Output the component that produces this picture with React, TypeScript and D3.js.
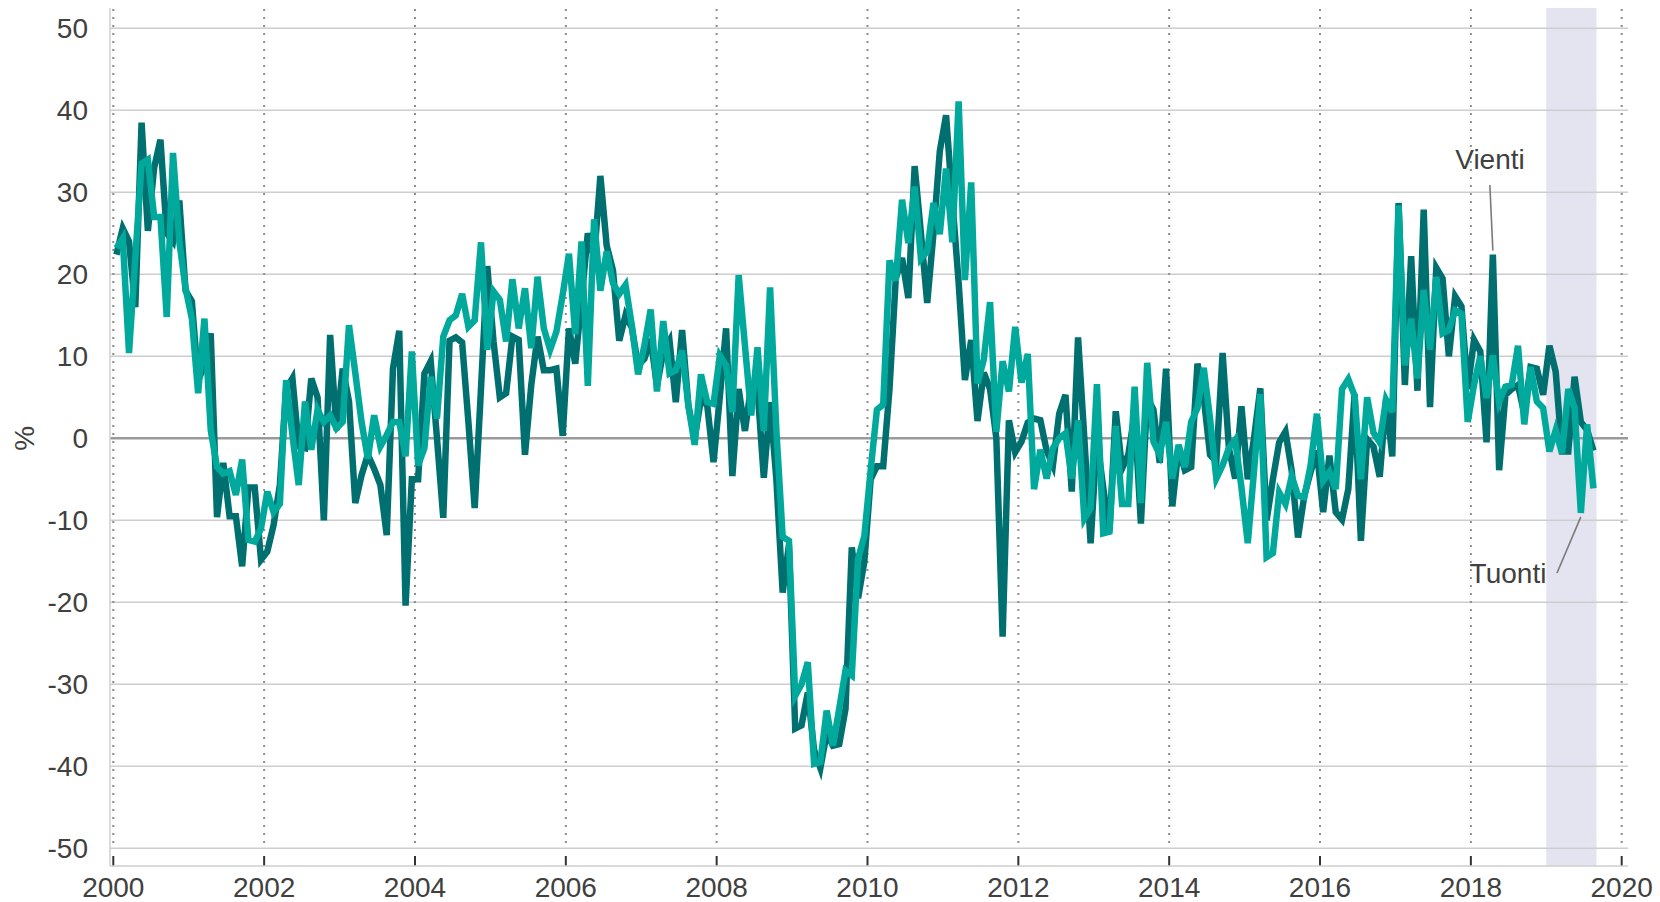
import React from "react";
import * as d3 from "d3";

const vienti: number[] = [
  22.4, 25.6, 24, 16, 38.5, 25.3, 33, 36.4, 25, 24, 29, 18,
  16.7, 7, 9, 12.8, -9.6, -3, -9.5, -9.5, -15.6, -6, -6, -14.8,
  -13.8, -10.6, -5.7, 6, 7.3, -1, -1.2, 7.3, 5, -10, 12.6, 1,
  8.5, 4.5, -7.9, -4.5, -2, -3.7, -5.7, -11.8, 8.5, 13.1, -20.4, -5,
  -5, 7.9, 9.4, 0, -9.7, 11.9, 12.3, 11.7, 2, -8.5, 6, 21,
  11.8, 5, 5.5, 12.4, 12, -2, 6.5, 12.4, 8.3, 8.3, 8.5, 0.3,
  13.4, 9.1, 17, 25, 22, 32, 23.5, 20.5, 11.9, 15, 13.5, 8.9,
  9.7, 12.1, 6.4, 10.5, 11.9, 4.4, 13.2, 4, 0, 4.8, 4, -2.9,
  5, 13.4, -4.6, 6, 0.9, 6.4, 6, -4.8, 4.4, -5, -18.8, -13,
  -35.4, -35, -31, -38, -40.2, -36, -37.5, -37.3, -33, -13.3, -19.5, -15,
  -5, -3.4, -3.4, 6, 19.5, 22, 17.1, 33.2, 25, 16.5, 25, 35,
  39.4, 29, 19, 7.1, 12, 2.1, 8, 6, 0, -24.2, 2.2, -1.7,
  -0.4, 1.9, 2.4, 2.2, -1.5, -3.3, 3, 5.3, -6.5, 12.3, 0, -12.8,
  0, -6, -11.3, 3.3, -3.7, -2, 3, -10.4, 5, 3.5, -3, 8.5,
  -8.3, -1.2, -3.9, -3.5, 9.1, 5, -2, -2.8, 10.4, -1.2, -4.9, 3.9,
  -5, 0, 6.1, -10, -5, -0.5, 0.8, -4, -12.1, -7, -4.1, -1.5,
  -9, -2.1, -9, -9.9, -6.2, 5.4, -12.5, -0.1, -1, -4.7, 4.8, -2.2,
  28.7, 6.5, 22.2, 5.8, 27.9, 3.8, 20.8, 19.5, 10, 17.3, 16.1, 6,
  12, 10.6, -0.5, 22.4, -3.9, 5.3, 6, 6.5, 3, 8.7, 8.5, 5.3,
  11.3, 8.1, -1.6, -1.6, 7.5, 2, 1, -1.5,
];

const tuonti: number[] = [
  23.2, 24.4, 10.4, 22, 33.5, 34, 27, 27, 14.8, 34.8, 24, 18.3,
  14.6, 5.5, 14.6, 1, -3.5, -4.3, -4, -6.9, -2.6, -12.4, -12.6, -11,
  -6.5, -9, -8, 7.1, 0.4, -5.7, 4.5, -1.4, 3.5, 2, 2.8, 1.2,
  2, 13.8, 8, 2, -2.5, 2.8, -1, 0.4, 2, 2, -2.2, 10.6,
  -3.3, -1.2, 7.5, 2.4, 12.4, 14.4, 15, 17.6, 13.6, 14.4, 23.9, 10.8,
  17.9, 16.9, 11.8, 19.4, 13.4, 18.3, 11, 19.7, 13.4, 10.8, 13, 17.5,
  22.5, 12.7, 24, 6.4, 26.7, 18, 22.8, 18.9, 17.6, 18.7, 13.8, 7.8,
  11.3, 15.7, 5.7, 14.3, 7.9, 8.3, 10.7, 4, -0.8, 7.8, 4.4, 4.2,
  10.1, 8.9, 3.2, 19.9, 11.3, 2.8, 11.1, 0.9, 18.4, 1, -12, -12.5,
  -31.4, -30, -27.3, -39.7, -39.5, -33.2, -37.5, -33, -28.3, -28.9, -14.7, -11.9,
  -3.9, 3.5, 4.1, 21.7, 19.2, 29.1, 23.8, 30.7, 21.9, 22.8, 28.7, 24.9,
  32.9, 23.9, 41.1, 19.3, 31.2, 6.7, 9.6, 16.6, 0.8, 9.4, 5.7, 13.6,
  6.8, 10.3, -6.2, -1.4, -4.9, -1.2, 0, 0.6, -4.9, 2.2, -9.8, -8.5,
  6.6, -11.6, -11.4, 1.5, -8, -8, 6.3, -7.9, 9.2, -0.4, -2, 2,
  -4.9, -0.8, -3.5, 2, 3.7, 8.6, 2.4, -4.9, -3.3, -1.2, -0.2, -6,
  -12.8, -4, 5.4, -14.5, -14, -6.6, -8, -4.6, -7, -7.2, -3.3, 3,
  -5.2, -4.1, -6.2, 6, 7.2, 5.2, -5, 5, 0.7, -0.5, 4.7, 3.2,
  28.4, 8.9, 14.6, 7.3, 18.1, 10.8, 19.7, 12.8, 13.2, 15.6, 15.2, 2,
  6.5, 10, 4.9, 10.1, 4.4, 6.3, 6.5, 11.3, 1.7, 8.7, 4.5, 3.7,
  -1.6, 1, -1.8, 6, 3.7, -9.1, 1.7, -6.1,
];

const startYear = 2000;
const xTickYears = [2000, 2002, 2004, 2006, 2008, 2010, 2012, 2014, 2016, 2018, 2020];
const yTickValues = [-50, -40, -30, -20, -10, 0, 10, 20, 30, 40, 50];
const shadedPeriod = [2019, 2019 + 8 / 12];
const seriesNames = ["Vienti", "Tuonti"];
const yAxisLabel = "%";

const W = 1660;
const H = 902;
const FONT = "'Liberation Sans', Arial, Helvetica, sans-serif";
const TEXT = "#404040";
const DARK = "#006f70";
const LIGHT = "#00a99c";

export default function App() {
  const x = d3.scaleLinear().domain([2000, 2020]).range([113.3, 1621.7]);
  const y = d3.scaleLinear().domain([-50, 50]).range([848.3, 28.3]);
  const plotLeft = 110;
  const plotRight = 1628;
  const plotTop = 8;
  const axisY = 866;

  const dateOf = (i: number) => startYear + (i + 0.5) / 12;
  const line = d3
    .line<number>()
    .x((_, i) => x(dateOf(i)))
    .y((d) => y(d));

  const vIdx = 219;
  const tIdx = 233;
  const vx = x(dateOf(vIdx));
  const vy = y(vienti[vIdx]);
  const tx = x(dateOf(tIdx));
  const ty = y(tuonti[tIdx]);

  return (
    <svg
      width={W}
      height={H}
      style={{ position: "absolute", left: 0, top: 0, background: "#fff" }}
      fontFamily={FONT}
    >
      <rect x={0} y={0} width={W} height={H} fill="#fff" />
      <rect
        x={x(shadedPeriod[0])}
        y={plotTop}
        width={x(shadedPeriod[1]) - x(shadedPeriod[0])}
        height={axisY - plotTop}
        fill="#e4e4f1"
      />
      {yTickValues.map((v) => (
        <line
          key={"g" + v}
          x1={plotLeft}
          x2={plotRight}
          y1={y(v)}
          y2={y(v)}
          stroke={v === 0 ? "#9a9a9a" : "#cdcdcd"}
          strokeWidth={v === 0 ? 2.6 : 1.5}
        />
      ))}
      {xTickYears.map((yr) => (
        <g key={"v" + yr}>
          <line
            x1={x(yr)}
            x2={x(yr)}
            y1={plotTop + 1}
            y2={y(-50)}
            stroke="#8c8c8c"
            strokeWidth={2}
            strokeDasharray="2 6"
          />
          <line x1={x(yr)} x2={x(yr)} y1={axisY - 10} y2={axisY} stroke="#333" strokeWidth={2} />
          <text
            x={x(yr)}
            y={897}
            textAnchor="middle"
            fontSize={28}
            fill={TEXT}
          >
            {yr}
          </text>
        </g>
      ))}
      <line x1={plotLeft} x2={plotLeft} y1={plotTop} y2={axisY} stroke="#cfcfcf" strokeWidth={1.5} />
      <line x1={plotLeft} x2={plotRight} y1={axisY} y2={axisY} stroke="#cfcfcf" strokeWidth={1.5} />
      {yTickValues.map((v) => (
        <text
          key={"t" + v}
          x={88}
          y={y(v)}
          dy="0.35em"
          textAnchor="end"
          fontSize={28}
          fill={TEXT}
        >
          {v}
        </text>
      ))}
      <text
        transform={`translate(34, ${y(0)}) rotate(-90)`}
        textAnchor="middle"
        fontSize={28}
        fill={TEXT}
      >
        {yAxisLabel}
      </text>
      <path d={line(vienti) || ""} fill="none" stroke={DARK} strokeWidth={6.5} />
      <path d={line(tuonti) || ""} fill="none" stroke={LIGHT} strokeWidth={6.5} />
      <line x1={vx - 3} y1={185} x2={vx} y2={vy - 4} stroke="#7a7a7a" strokeWidth={1.6} />
      <text x={1490} y={169} textAnchor="middle" fontSize={28} fill={TEXT}>
        {seriesNames[0]}
      </text>
      <line x1={1557} y1={573} x2={tx} y2={ty + 4} stroke="#7a7a7a" strokeWidth={1.6} />
      <text x={1508} y={583} textAnchor="middle" fontSize={28} fill={TEXT}>
        {seriesNames[1]}
      </text>
    </svg>
  );
}
